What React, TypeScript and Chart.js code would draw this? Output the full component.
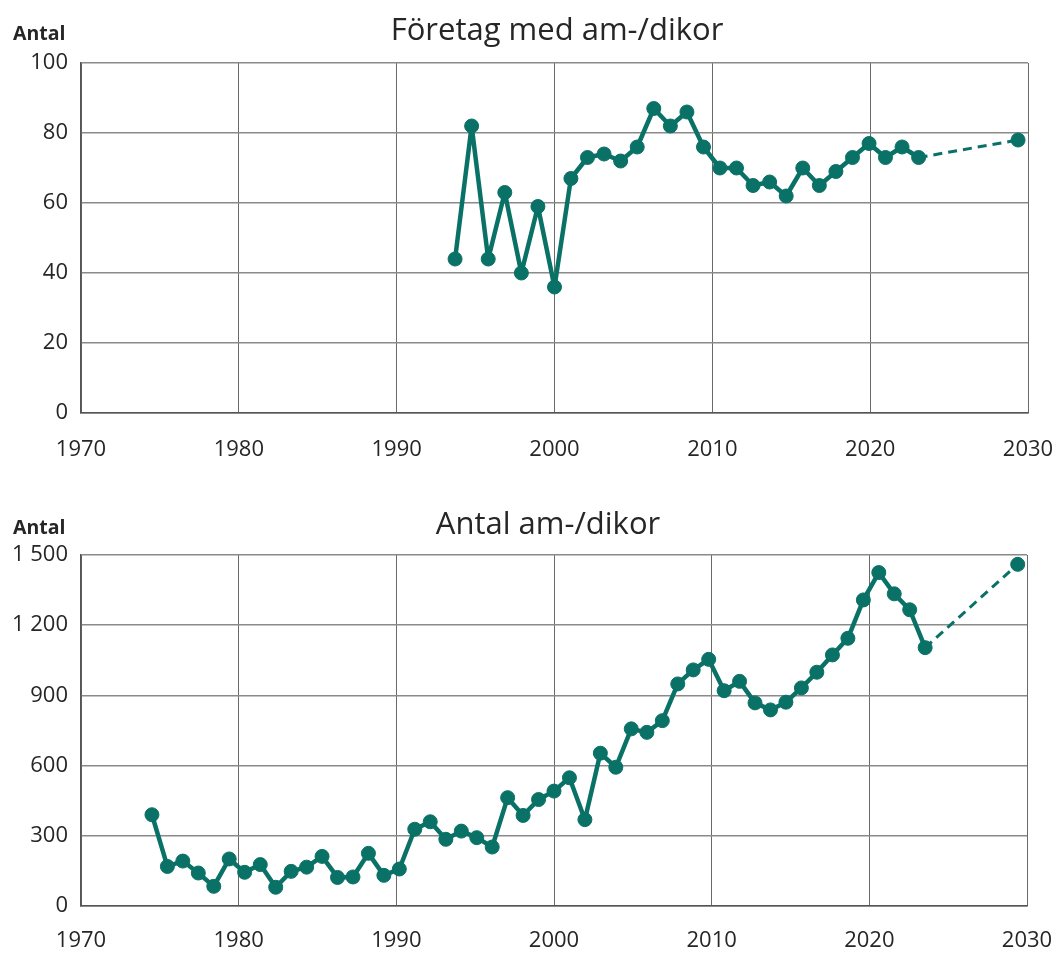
import React, { useEffect, useRef } from 'react';
import { Chart, registerables } from 'chart.js';

Chart.register(...registerables);

const FONT = '"Open Sans", "Noto Sans", sans-serif';
const TEAL = '#0a7167';

// x-axis tick labels
const xTickYears = [1970, 1980, 1990, 2000, 2010, 2020, 2030];

// Chart 1: Företag med am-/dikor
const firmsX = [
  1993.70, 1994.75, 1995.80, 1996.85, 1997.90, 1998.95, 2000.00, 2001.04, 2002.09, 2003.14,
  2004.19, 2005.24, 2006.29, 2007.34, 2008.39, 2009.44, 2010.48, 2011.53, 2012.58, 2013.63,
  2014.68, 2015.73, 2016.78, 2017.83, 2018.88, 2019.93, 2020.97, 2022.02, 2023.07,
];
const firmsY = [
  44, 82, 44, 63, 40, 59, 36, 67, 73, 74,
  72, 76, 87, 82, 86, 76, 70, 70, 65, 66,
  62, 70, 65, 69, 73, 77, 73, 76, 73,
];
const firmsProjX = 2029.37;
const firmsProjY = 78;

// Chart 2: Antal am-/dikor
const cowsX = [
  1974.50, 1975.48, 1976.46, 1977.44, 1978.42, 1979.40, 1980.38, 1981.37, 1982.35, 1983.33,
  1984.31, 1985.29, 1986.27, 1987.25, 1988.23, 1989.21, 1990.19, 1991.17, 1992.15, 1993.14,
  1994.12, 1995.10, 1996.08, 1997.06, 1998.04, 1999.02, 2000.00, 2000.98, 2001.96, 2002.94,
  2003.92, 2004.90, 2005.89, 2006.87, 2007.85, 2008.83, 2009.81, 2010.79, 2011.77, 2012.75,
  2013.73, 2014.71, 2015.69, 2016.67, 2017.66, 2018.64, 2019.62, 2020.60, 2021.58, 2022.56,
  2023.54,
];
const cowsY = [
  390, 169, 192, 141, 84, 201, 144, 177, 80, 148,
  166, 212, 122, 124, 225, 131, 158, 328, 360, 285,
  320, 292, 252, 463, 387, 455, 491, 548, 369, 653,
  593, 757, 742, 792, 949, 1009, 1054, 920, 960, 868,
  838, 871, 932, 999, 1073, 1144, 1308, 1425, 1334, 1266,
  1104,
];
const cowsProjX = 2029.41;
const cowsProjY = 1460;

const fmt = (v: number) => String(v).replace(/\B(?=(\d{3})+(?!\d))/g, ' ');

const textPlugin = {
  id: 'texts',
  afterDraw(chart: any, _args: any, opts: any) {
    const ctx = chart.ctx;
    ctx.save();
    ctx.fillStyle = '#262626';
    ctx.textBaseline = 'alphabetic';
    ctx.font = `31px ${FONT}`;
    ctx.textAlign = 'center';
    ctx.fillText(opts.title, opts.titleX, opts.baseY);
    ctx.font = `bold 19.5px ${FONT}`;
    ctx.textAlign = 'left';
    ctx.fillText('Antal', 13, opts.baseY);
    ctx.restore();
  },
};

type Cfg = {
  xs: number[];
  ys: number[];
  px: number;
  py: number;
  yMax: number;
  yStep: number;
  padTop: number;
  padRight: number;
  xAxisH: number;
  xPad: number;
  title: string;
  titleX: number;
  baseY: number;
};

function makeChart(canvas: HTMLCanvasElement, c: Cfg) {
  const main = c.xs.map((x, i) => ({ x, y: c.ys[i] }));
  const lastI = c.xs.length - 1;
  const proj = [
    { x: c.xs[lastI], y: c.ys[lastI] },
    { x: c.px, y: c.py },
  ];
  return new Chart(canvas, {
    type: 'line',
    data: {
      datasets: [
        {
          data: proj,
          borderColor: TEAL,
          backgroundColor: TEAL,
          borderWidth: 3,
          borderDash: [9, 6],
          pointRadius: [0, 7],
          pointBorderWidth: 1,
          pointBorderColor: TEAL,
          pointBackgroundColor: TEAL,
          fill: false,
          tension: 0,
        },
        {
          data: main,
          borderColor: TEAL,
          backgroundColor: TEAL,
          borderWidth: 4.5,
          borderJoinStyle: 'round',
          borderCapStyle: 'round',
          pointRadius: 7,
          pointBorderWidth: 1,
          pointBorderColor: TEAL,
          pointBackgroundColor: TEAL,
          fill: false,
          tension: 0,
        },
      ],
    },
    options: {
      responsive: false,
      animation: false,
      layout: { padding: { top: c.padTop, right: c.padRight, left: 0, bottom: 0 } },
      plugins: {
        legend: { display: false },
        tooltip: { enabled: false },
        title: { display: false },
        texts: { title: c.title, titleX: c.titleX, baseY: c.baseY },
      } as any,
      scales: {
        x: {
          type: 'linear',
          min: 1970,
          max: 2030,
          afterBuildTicks: (scale: any) => {
            scale.ticks = xTickYears.map((v) => ({ value: v }));
          },
          afterFit: (scale: any) => {
            scale.height = c.xAxisH;
            scale.paddingLeft = 0;
            scale.paddingRight = 0;
          },
          ticks: {
            callback: (v: any) => String(v),
            color: '#262626',
            font: { family: FONT, size: 22 },
            padding: c.xPad,
            maxRotation: 0,
            autoSkip: false,
          },
          grid: { color: '#6a6a6a', lineWidth: 1, drawTicks: false },
          border: { color: '#555555', width: 1.5 },
        },
        y: {
          type: 'linear',
          min: 0,
          max: c.yMax,
          afterFit: (scale: any) => {
            scale.width = 81;
            scale.paddingTop = 0;
            scale.paddingBottom = 0;
          },
          ticks: {
            stepSize: c.yStep,
            callback: (v: any) => fmt(Number(v)),
            color: '#262626',
            font: { family: FONT, size: 22 },
            padding: 13,
          },
          grid: { color: '#8a8a8a', lineWidth: 1.5, drawTicks: false },
          border: { color: '#555555', width: 1.5 },
        },
      },
    },
    plugins: [textPlugin],
  } as any);
}

function ChartBox(props: { cfg: Cfg; top: number; height: number }) {
  const ref = useRef<HTMLCanvasElement | null>(null);
  useEffect(() => {
    if (!ref.current) return;
    const ch = makeChart(ref.current, props.cfg);
    return () => ch.destroy();
  }, []);
  return (
    <canvas
      ref={ref}
      width={1052}
      height={props.height}
      style={{ position: 'absolute', left: 0, top: props.top, width: 1052, height: props.height }}
    />
  );
}

export default function App() {
  const top: Cfg = {
    xs: firmsX,
    ys: firmsY,
    px: firmsProjX,
    py: firmsProjY,
    yMax: 100,
    yStep: 20,
    padTop: 63,
    padRight: 24,
    xAxisH: 57,
    xPad: 24,
    title: 'Företag med am-/dikor',
    titleX: 557,
    baseY: 40,
  };
  const bottom: Cfg = {
    xs: cowsX,
    ys: cowsY,
    px: cowsProjX,
    py: cowsProjY,
    yMax: 1500,
    yStep: 300,
    padTop: 75,
    padRight: 25,
    xAxisH: 48,
    xPad: 22,
    title: 'Antal am-/dikor',
    titleX: 548,
    baseY: 54,
  };
  return (
    <div style={{ position: 'absolute', left: 0, top: 0, width: 1052, height: 954, background: '#fff' }}>
      <ChartBox cfg={top} top={0} height={470} />
      <ChartBox cfg={bottom} top={480} height={474} />
    </div>
  );
}
